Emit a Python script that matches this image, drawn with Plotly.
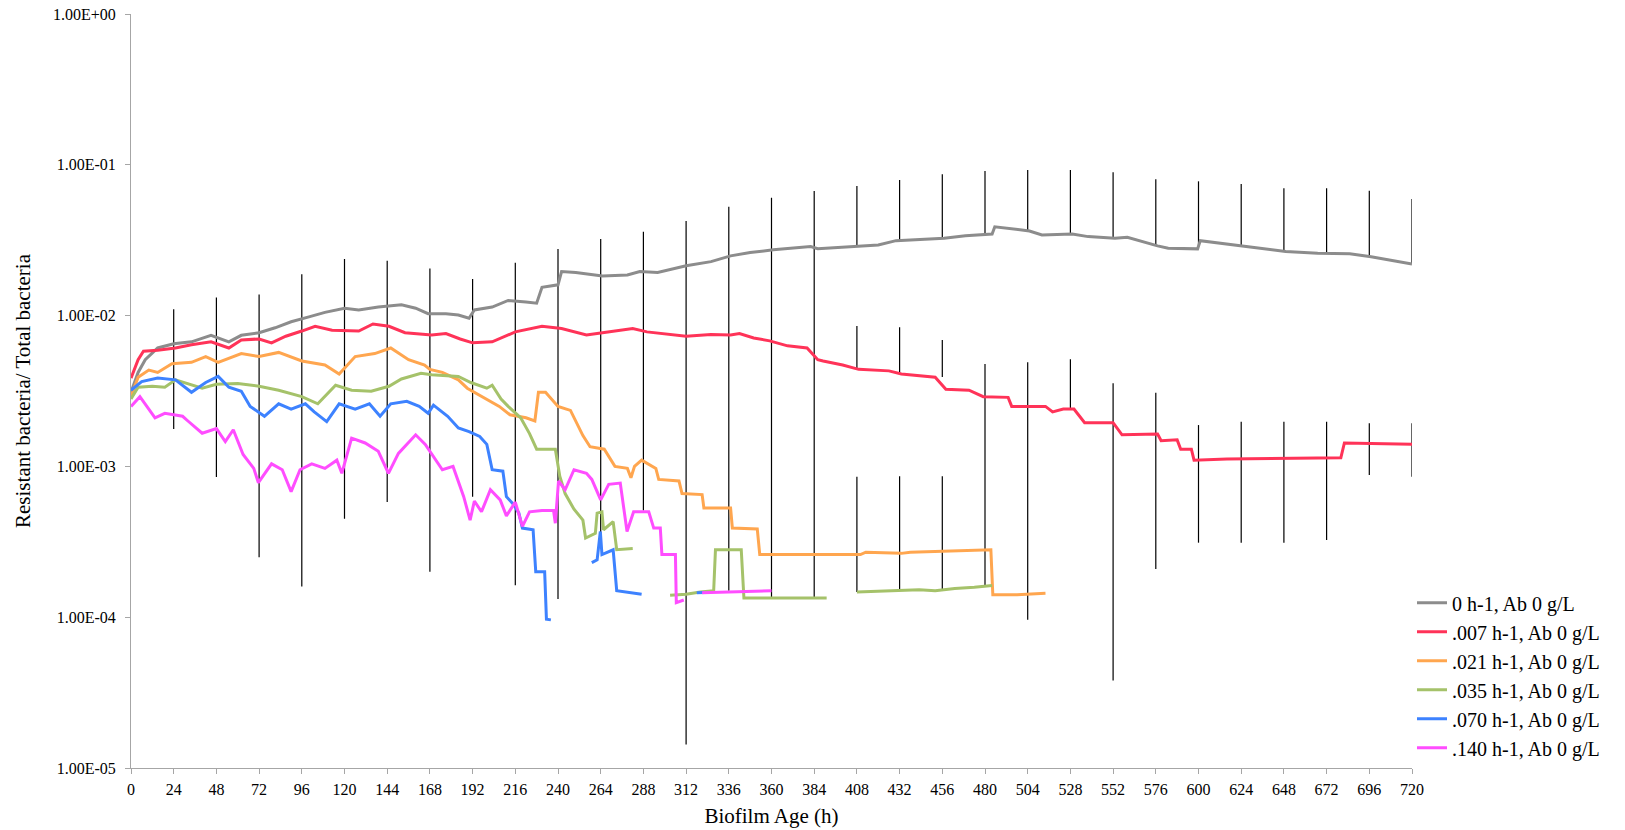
import plotly.graph_objects as go

# ---- data: resistant / total bacteria ratio vs biofilm age (h) ----
series_names = [
    "0 h-1, Ab 0 g/L",
    ".007 h-1, Ab 0 g/L",
    ".021 h-1, Ab 0 g/L",
    ".035 h-1, Ab 0 g/L",
    ".070 h-1, Ab 0 g/L",
    ".140 h-1, Ab 0 g/L",
]
series_colors = ["#8c8c8c", "#ff3358", "#ffa64f", "#a5c26a", "#3d82ff", "#ff4dff"]

gray_t = [0, 4, 8, 15, 24, 34, 45, 50, 55, 62, 72, 81, 90, 100, 109, 120, 128, 139, 152, 160,
          167, 177, 184, 190, 193, 203, 212, 222, 228, 231, 240, 242, 250, 265, 279, 286, 296,
          312, 326, 337, 348, 361, 372, 382, 386, 397, 409, 420, 430, 444, 457, 469, 484,
          485.5, 495, 505, 512, 521, 529, 538, 553, 560, 570, 577, 583, 599.5, 601, 613, 625,
          635, 649, 667, 685, 697, 710, 720]
gray_y = [3.1e-3, 4.2e-3, 5.1e-3, 6.1e-3, 6.5e-3, 6.7e-3, 7.4e-3, 7.0e-3, 6.7e-3, 7.4e-3,
          7.7e-3, 8.3e-3, 9.1e-3, 9.8e-3, 1.05e-2, 1.12e-2, 1.09e-2, 1.14e-2, 1.18e-2, 1.12e-2,
          1.03e-2, 1.03e-2, 1.01e-2, 9.6e-3, 1.09e-2, 1.14e-2, 1.26e-2, 1.23e-2, 1.21e-2,
          1.54e-2, 1.6e-2, 1.96e-2, 1.93e-2, 1.83e-2, 1.86e-2, 1.96e-2, 1.93e-2, 2.14e-2,
          2.28e-2, 2.49e-2, 2.62e-2, 2.73e-2, 2.8e-2, 2.87e-2, 2.78e-2, 2.84e-2, 2.9e-2,
          2.94e-2, 3.14e-2, 3.21e-2, 3.26e-2, 3.38e-2, 3.47e-2, 3.88e-2, 3.76e-2, 3.64e-2,
          3.43e-2, 3.47e-2, 3.47e-2, 3.34e-2, 3.26e-2, 3.31e-2, 3.05e-2, 2.9e-2, 2.8e-2,
          2.77e-2, 3.14e-2, 3.02e-2, 2.9e-2, 2.8e-2, 2.66e-2, 2.59e-2, 2.57e-2, 2.46e-2,
          2.31e-2, 2.2e-2]

red_t = [0, 4, 7, 15, 25, 34, 45, 55, 62, 72, 79, 87, 96, 103.5, 113, 128, 136, 145, 154, 169,
         177, 185, 192, 203, 216, 231, 242, 247, 256, 265, 275, 282, 290, 303, 312, 326, 337,
         342, 350, 359, 369, 380, 386, 389, 400, 409, 426, 433, 443, 452, 458, 471, 479, 493,
         495, 514, 518, 524, 530, 536, 552, 557, 577, 579, 588, 590, 596, 597.5, 616, 650, 680,
         682, 698, 720]
red_y = [3.85e-3, 5.1e-3, 5.8e-3, 5.9e-3, 6.1e-3, 6.4e-3, 6.7e-3, 6.1e-3, 6.9e-3, 7.0e-3,
         6.6e-3, 7.3e-3, 7.9e-3, 8.5e-3, 8.0e-3, 7.9e-3, 8.8e-3, 8.5e-3, 7.7e-3, 7.45e-3,
         7.6e-3, 7.0e-3, 6.6e-3, 6.7e-3, 7.8e-3, 8.5e-3, 8.2e-3, 7.9e-3, 7.45e-3, 7.7e-3,
         8.0e-3, 8.2e-3, 7.8e-3, 7.5e-3, 7.3e-3, 7.5e-3, 7.45e-3, 7.6e-3, 7.1e-3, 6.8e-3,
         6.3e-3, 6.1e-3, 5.1e-3, 5.0e-3, 4.7e-3, 4.4e-3, 4.3e-3, 4.1e-3, 4.0e-3, 3.9e-3,
         3.25e-3, 3.2e-3, 2.9e-3, 2.87e-3, 2.5e-3, 2.5e-3, 2.3e-3, 2.4e-3, 2.4e-3, 1.95e-3,
         1.95e-3, 1.62e-3, 1.64e-3, 1.48e-3, 1.5e-3, 1.3e-3, 1.3e-3, 1.1e-3, 1.12e-3, 1.13e-3,
         1.14e-3, 1.43e-3, 1.42e-3, 1.4e-3]

orange_t = [0, 4, 10, 15, 23, 34, 42, 49, 62, 72, 83, 96, 109, 117, 126, 137, 146, 156, 165,
            168, 175, 184, 189, 195, 200, 207, 213, 222, 227, 229, 233, 240, 247, 254, 258, 266,
            272, 279, 281, 283, 287, 295, 296.6, 308, 309.7, 321, 322, 337, 338, 352, 353.4,
            410, 413, 433, 438, 461, 476, 483.3, 484.4, 498, 514]
orange_y = [2.9e-3, 3.9e-3, 4.35e-3, 4.2e-3, 4.8e-3, 4.9e-3, 5.35e-3, 4.9e-3, 5.6e-3, 5.35e-3,
            5.7e-3, 5.0e-3, 4.7e-3, 4.1e-3, 5.35e-3, 5.6e-3, 6.1e-3, 5.1e-3, 4.7e-3, 4.4e-3,
            4.2e-3, 3.75e-3, 3.3e-3, 3.0e-3, 2.8e-3, 2.5e-3, 2.2e-3, 2.1e-3, 2.0e-3, 3.1e-3,
            3.1e-3, 2.5e-3, 2.35e-3, 1.6e-3, 1.35e-3, 1.3e-3, 1.0e-3, 9.7e-4, 8.4e-4, 1.0e-3,
            1.1e-3, 9.7e-4, 8.2e-4, 8.0e-4, 6.6e-4, 6.5e-4, 5.3e-4, 5.3e-4, 3.9e-4, 3.85e-4,
            2.6e-4, 2.6e-4, 2.7e-4, 2.65e-4, 2.7e-4, 2.75e-4, 2.8e-4, 2.8e-4, 1.41e-4, 1.41e-4,
            1.44e-4]

green_t = [0, 4, 12, 19, 25, 32, 40, 48, 60, 72, 83, 96, 105, 115, 124, 135, 145, 152, 163,
           169, 176, 184, 191, 200, 203, 208, 212, 219, 224, 228, 238.5, 241, 244, 249, 254,
           255.5, 261, 262, 264.7, 265.6, 271, 273, 282, None, 303, 312, 320, 327.5, 328.5,
           343, 344.5, 391, None, 408, 430, 443, 452, 463, 474, 484]
green_y = [2.8e-3, 3.35e-3, 3.4e-3, 3.35e-3, 3.75e-3, 3.55e-3, 3.3e-3, 3.5e-3, 3.55e-3,
           3.4e-3, 3.2e-3, 2.9e-3, 2.6e-3, 3.45e-3, 3.2e-3, 3.15e-3, 3.4e-3, 3.8e-3, 4.15e-3,
           4.05e-3, 4.0e-3, 3.95e-3, 3.6e-3, 3.3e-3, 3.45e-3, 2.8e-3, 2.5e-3, 2.1e-3, 1.65e-3,
           1.3e-3, 1.3e-3, 8.6e-4, 6.6e-4, 5.2e-4, 4.4e-4, 3.35e-4, 3.6e-4, 4.9e-4, 5.0e-4,
           3.8e-4, 4.3e-4, 2.8e-4, 2.85e-4, None, 1.4e-4, 1.42e-4, 1.47e-4, 1.5e-4, 2.8e-4,
           2.8e-4, 1.34e-4, 1.34e-4, None, 1.47e-4, 1.5e-4, 1.52e-4, 1.5e-4, 1.55e-4, 1.58e-4,
           1.62e-4]

blue_t = [0, 6, 15, 25, 34, 42, 49, 55, 62, 67, 75, 83, 90, 98, 103, 110, 117, 126, 134, 140,
          146, 155, 162, 167, 170, 178, 184, 190, 196, 200, 203, 209, 211, 215, 218, 220, 226,
          227.5, 232.5, 233.5, 236, None, 259, 262, 263.8, 264.7, 271, 273, 287, None, 318, 322]
blue_y = [3.2e-3, 3.65e-3, 3.85e-3, 3.75e-3, 3.1e-3, 3.6e-3, 3.95e-3, 3.35e-3, 3.15e-3,
          2.5e-3, 2.15e-3, 2.6e-3, 2.4e-3, 2.6e-3, 2.3e-3, 1.98e-3, 2.6e-3, 2.4e-3, 2.6e-3,
          2.15e-3, 2.6e-3, 2.7e-3, 2.5e-3, 2.25e-3, 2.55e-3, 2.15e-3, 1.8e-3, 1.7e-3, 1.58e-3,
          1.4e-3, 9.5e-4, 9.3e-4, 6.3e-4, 5.6e-4, 4.9e-4, 3.9e-4, 3.8e-4, 2.0e-4, 2.0e-4,
          9.7e-5, 9.6e-5, None, 2.3e-4, 2.4e-4, 3.7e-4, 2.6e-4, 2.8e-4, 1.5e-4, 1.42e-4, None,
          1.45e-4, 1.46e-4]

magenta_t = [0, 5, 10, 13.5, 19, 24, 29, 32, 40, 48, 53, 57.5, 63, 69, 71.6, 79, 85, 90, 95,
             101.6, 109, 115.7, 118.5, 124, 131.6, 139, 144.7, 150.3, 160, 165.4, 175, 181,
             187, 190.6, 193, 197, 202, 207.5, 211, 216, 220, 224, 231, 237.5, 238.5, 240.3,
             244, 249, 256, 259, 264, 268.5, 275, 278.8, 282.5, 291, 293.8, 297.5, 298.4, 306,
             306.5, 310.7, None, 321, 340, 360]
magenta_y = [2.5e-3, 2.9e-3, 2.4e-3, 2.1e-3, 2.25e-3, 2.2e-3, 2.15e-3, 2.0e-3, 1.66e-3,
             1.78e-3, 1.46e-3, 1.75e-3, 1.2e-3, 9.7e-4, 7.8e-4, 1.04e-3, 9.5e-4, 6.8e-4, 9.5e-4,
             1.04e-3, 9.7e-4, 1.1e-3, 9.0e-4, 1.54e-3, 1.43e-3, 1.26e-3, 9.0e-4, 1.22e-3,
             1.62e-3, 1.4e-3, 9.5e-4, 1.0e-3, 6.3e-4, 4.4e-4, 5.9e-4, 5.0e-4, 7.0e-4, 6.0e-4,
             4.7e-4, 5.8e-4, 4.0e-4, 5.0e-4, 5.1e-4, 5.1e-4, 4.2e-4, 8.0e-4, 7.0e-4, 9.5e-4,
             9.0e-4, 8.2e-4, 6.0e-4, 7.6e-4, 7.75e-4, 3.7e-4, 5.0e-4, 5.0e-4, 3.9e-4, 3.9e-4,
             2.6e-4, 2.6e-4, 1.25e-4, 1.3e-4, None, 1.45e-4, 1.48e-4, 1.5e-4]

# error-bar ranges (low, high) drawn every 24 h
err_hours = [24, 48, 72, 96, 120, 144, 168, 192, 216, 240, 264, 288, 312, 336, 360, 384,
             408, 432, 456, 480, 504, 528, 552, 576, 600, 624, 648, 672, 696, 720,
             408, 432, 456, 480, 504, 528, 552, 576, 600, 624, 648, 672, 696, 720,
             408, 432, 456]
err_low = [1.77e-3, 8.5e-4, 2.5e-4, 1.6e-4, 4.5e-4, 5.8e-4, 2.0e-4, 6.3e-4, 1.63e-4, 1.32e-4,
           3.4e-4, 5.1e-4, 1.43e-5, 1.5e-4, 1.35e-4, 1.35e-4,
           2.9e-2, 3.14e-2, 3.26e-2, 3.43e-2, 3.64e-2, 3.47e-2, 3.26e-2, 2.9e-2, 2.85e-2,
           2.9e-2, 2.66e-2, 2.57e-2, 2.46e-2, 2.2e-2,
           4.36e-3, 4.11e-3, 3.91e-3, 1.6e-4, 9.6e-5, 2.41e-3, 3.8e-5, 2.09e-4, 3.12e-4,
           3.12e-4, 3.12e-4, 3.25e-4, 8.77e-4, 8.55e-4,
           1.47e-4, 1.5e-4, 1.52e-4]
err_high = [1.1e-2, 1.32e-2, 1.38e-2, 1.88e-2, 2.37e-2, 2.31e-2, 2.05e-2, 1.75e-2, 2.24e-2,
            2.76e-2, 3.22e-2, 3.6e-2, 4.24e-2, 5.28e-2, 6.05e-2, 6.7e-2,
            7.23e-2, 7.93e-2, 8.65e-2, 9.09e-2, 9.24e-2, 9.24e-2, 8.92e-2, 8.01e-2, 7.77e-2,
            7.46e-2, 6.98e-2, 6.98e-2, 6.73e-2, 5.93e-2,
            8.53e-3, 8.36e-3, 6.89e-3, 4.77e-3, 4.9e-3, 5.13e-3, 3.56e-3, 3.08e-3, 1.88e-3,
            1.98e-3, 1.98e-3, 1.98e-3, 1.93e-3, 1.93e-3,
            8.55e-4, 8.6e-4, 8.6e-4]

x_tick_vals = list(range(0, 721, 24))
y_tick_vals = [1e-5, 1e-4, 1e-3, 1e-2, 1e-1, 1e0]
y_tick_labels = ["1.00E-05", "1.00E-04", "1.00E-03", "1.00E-02", "1.00E-01", "1.00E+00"]

SERIF = "Liberation Serif, Times New Roman, serif"

fig = go.Figure()

# vertical error bars, one segment per (hour, low, high)
bar_x, bar_y = [], []
for t, lo, hi in zip(err_hours, err_low, err_high):
    bar_x += [t, t, None]
    bar_y += [lo, hi, None]
fig.add_trace(go.Scatter(x=bar_x, y=bar_y, mode="lines",
                         line=dict(color="#000000", width=1.2),
                         showlegend=False, hoverinfo="skip", connectgaps=False))

all_t = [gray_t, red_t, orange_t, green_t, blue_t, magenta_t]
all_y = [gray_y, red_y, orange_y, green_y, blue_y, magenta_y]
for name, color, tt, yy in zip(series_names, series_colors, all_t, all_y):
    fig.add_trace(go.Scatter(x=tt, y=yy, mode="lines", name=name,
                             line=dict(color=color, width=3),
                             connectgaps=False))

axis_line = "#a6a6a6"
fig.update_xaxes(
    range=[0, 720], tickmode="array", tickvals=x_tick_vals,
    automargin=False,
    showgrid=False, zeroline=False,
    showline=True, linecolor=axis_line, linewidth=1,
    ticks="outside", ticklen=5, tickcolor=axis_line,
    ticklabelstandoff=2,
    tickfont=dict(family=SERIF, size=16, color="#000"),
    title=dict(text="Biofilm Age (h)", font=dict(family=SERIF, size=21, color="#000"),
               standoff=11),
)
fig.update_yaxes(
    type="log", range=[-5, 0], tickmode="array",
    tickvals=y_tick_vals, ticktext=y_tick_labels,
    automargin=False,
    showgrid=False, zeroline=False,
    showline=True, linecolor=axis_line, linewidth=1,
    ticks="outside", ticklen=5, tickcolor=axis_line,
    ticklabelstandoff=6,
    tickfont=dict(family=SERIF, size=16, color="#000"),
    title=dict(text="Resistant bacteria/ Total bacteria",
               font=dict(family=SERIF, size=21, color="#000"), standoff=16),
)

fig.update_layout(
    width=1625, height=830,
    margin=dict(l=131, r=213, t=14, b=62, autoexpand=False),
    paper_bgcolor="white", plot_bgcolor="white",
    font=dict(family=SERIF, color="#000"),
    legend=dict(x=1.0, xanchor="left", y=0.245, yanchor="top",
                font=dict(family=SERIF, size=20, color="#000"),
                bgcolor="rgba(0,0,0,0)", itemwidth=30, tracegroupgap=0),
)

fig.write_html("out.html")
